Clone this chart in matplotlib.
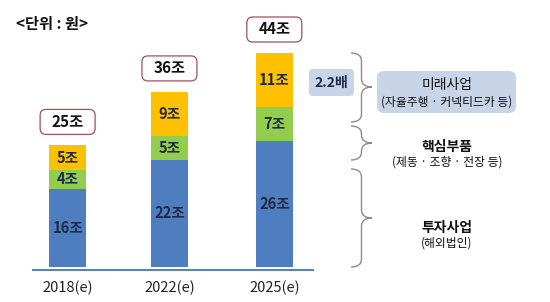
import matplotlib
matplotlib.use('Agg')
import matplotlib.pyplot as plt
from matplotlib.patches import FancyBboxPatch, PathPatch
from matplotlib.path import Path

plt.rcParams['font.family'] = ['Noto Sans CJK KR', 'DejaVu Sans']

# 데이터 (단위: 조원)
years = ['2018(e)', '2022(e)', '2025(e)']
invest = [16, 22, 26]   # 투자사업
core = [4, 5, 7]        # 핵심부품
future = [5, 9, 11]     # 미래사업
totals = [25, 36, 44]

blue = '#4F7EC0'
green = '#92CD50'
yellow = '#FFC000'
navy = '#1F2A44'

W, H = 550, 302
fig = plt.figure(figsize=(W / 100, H / 100), dpi=100)

# 막대 축 (픽셀 위치에 맞춰 배치)
ppu = 214 / 44.0
ybot = -3 / ppu
ytop = 48
ax = fig.add_axes([33 / W, (H - 270) / H, 280 / W, (ytop - ybot) * ppu / H])
ax.set_xlim(-0.34, 2.41)
ax.set_ylim(ybot, ytop)

x = [0, 1, 2.03]
bw = 0.36
ax.bar(x, invest, width=bw, color=blue)
ax.bar(x, core, width=bw, bottom=invest, color=green)
bottom2 = [a + b for a, b in zip(invest, core)]
ax.bar(x, future, width=bw, bottom=bottom2, color=yellow)

for i in range(3):
    ax.text(x[i], invest[i] / 2, f'{invest[i]}조', ha='center', va='center',
            fontsize=10.5, color=navy, fontweight='bold')
    ax.text(x[i], invest[i] + core[i] / 2, f'{core[i]}조', ha='center', va='center',
            fontsize=10.5, color=navy, fontweight='bold')
    ax.text(x[i], bottom2[i] + future[i] / 2, f'{future[i]}조', ha='center', va='center',
            fontsize=10.5, color=navy, fontweight='bold')

for s in ['top', 'right', 'left']:
    ax.spines[s].set_visible(False)
ax.spines['bottom'].set_color('#5B84B1')
ax.spines['bottom'].set_linewidth(1.5)
ax.set_yticks([])
ax.set_xticks(x)
ax.set_xticklabels(years, fontsize=10.5, color='#222222', fontweight='medium')
ax.tick_params(axis='x', length=0, pad=8)

# 오버레이 축 (픽셀 좌표)
ov = fig.add_axes([0, 0, 1, 1])
ov.set_xlim(0, W)
ov.set_ylim(H, 0)
ov.axis('off')
ov.patch.set_alpha(0)

fig.canvas.draw()
for i in range(3):
    px, py = ax.transData.transform((x[i], totals[i]))
    top_px = H - py
    cx = px
    bw_px, bh_px = 55, 25
    by = top_px - 11 - bh_px
    ov.add_patch(FancyBboxPatch((cx - bw_px / 2, by), bw_px, bh_px,
                                boxstyle='round,pad=0,rounding_size=6',
                                fc='white', ec='#A0505F', lw=0.9))
    ov.text(cx, by + bh_px / 2, f'{totals[i]}조', ha='center', va='center',
            fontsize=11, color='#111111', fontweight='bold')

ov.text(16, 24, '<단위 : 원>', ha='left', va='center', fontsize=11,
        color='#111111', fontweight='bold')


def brace(xl, xr, y0, y1, ym, r=8):
    xm = (xl + xr) / 2
    verts = [(xl, y0), (xm, y0), (xm, y0 + r), (xm, ym - r), (xm, ym), (xr, ym),
             (xm, ym), (xm, ym + r), (xm, y1 - r), (xm, y1), (xl, y1)]
    codes = [Path.MOVETO, Path.CURVE3, Path.CURVE3, Path.LINETO, Path.CURVE3, Path.CURVE3,
             Path.CURVE3, Path.CURVE3, Path.LINETO, Path.CURVE3, Path.CURVE3]
    ov.add_patch(PathPatch(Path(verts, codes), fc='none', ec='#8C8C8C', lw=1.0))


brace(351, 372, 53, 122, 87)
brace(351, 372, 126, 160, 143)
brace(351, 372, 169, 267, 218)

ov.add_patch(FancyBboxPatch((309, 69), 45, 27, boxstyle='round,pad=0,rounding_size=4',
                            fc='#C8D5E8', ec='none'))
ov.text(331.5, 82.5, '2.2배', ha='center', va='center', fontsize=10,
        color=navy, fontweight='bold')

ov.add_patch(FancyBboxPatch((377, 71), 139, 42, boxstyle='round,pad=0,rounding_size=7',
                            fc='#C8D5E8', ec='none'))
ov.text(447, 85, '미래사업', ha='center', va='center', fontsize=10, color='#111111',
        fontweight='medium')
ov.text(447, 102, '(자율주행 · 커넥티드카 등)', ha='center', va='center', fontsize=8.5,
        color='#111111', fontweight='medium')

ov.text(447, 147, '핵심부품', ha='center', va='center', fontsize=10, color='#111111',
        fontweight='bold')
ov.text(447, 162, '(제동 · 조향 · 전장 등)', ha='center', va='center', fontsize=8.5,
        color='#111111', fontweight='medium')

ov.text(447, 228, '투자사업', ha='center', va='center', fontsize=10, color='#111111',
        fontweight='bold')
ov.text(447, 243, '(해외법인)', ha='center', va='center', fontsize=8.5, color='#111111',
        fontweight='medium')

fig.savefig('out.png', dpi=100)
